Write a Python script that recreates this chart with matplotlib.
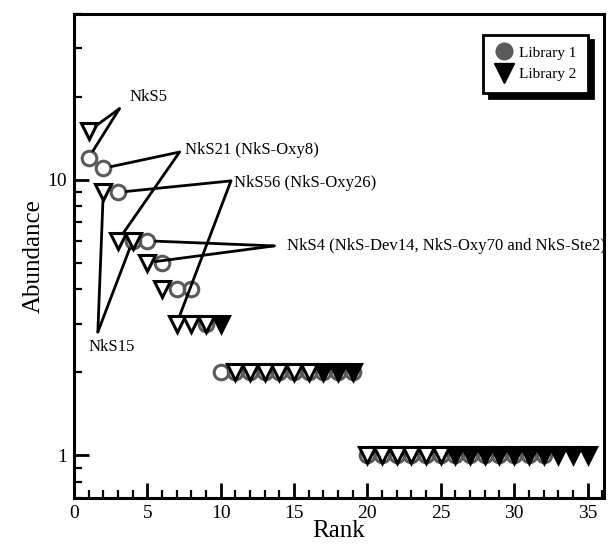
import matplotlib
matplotlib.use("Agg")
import matplotlib.pyplot as plt
from matplotlib.lines import Line2D
from matplotlib.ticker import MultipleLocator, LogLocator, NullFormatter, FixedLocator, FixedFormatter

plt.rcParams['font.family'] = ['Liberation Serif', 'DejaVu Serif']

# ---- data ----
l1_rank = list(range(1, 33))
l1_vals = [12, 11, 9, 6, 6, 5, 4, 4, 3] + [2] * 10 + [1] * 13
l2_rank = list(range(1, 36))
l2_vals = [15, 9, 6, 6, 5, 4, 3, 3, 3, 3] + [2] * 9 + [1] * 16
l2_filled = [10, 17, 18, 19] + list(range(26, 36))

# annotations: label, (label x, label y), (apex x, apex y), targets [(series, rank)]
notes = [
    ("NkS5", (3.8, 20.0), (3.1, 18.1), [("l2", 1), ("l1", 1)]),
    ("NkS21 (NkS-Oxy8)", (7.6, 12.8), (7.2, 12.6), [("l1", 2), ("l2", 3)]),
    ("NkS56 (NkS-Oxy26)", (10.9, 9.75), (10.7, 9.9), [("l1", 3), ("l2", 7)]),
    ("NkS4 (NkS-Dev14, NkS-Oxy70 and NkS-Ste2)", (14.5, 5.75), (13.65, 5.75), [("l1", 5), ("l2", 5)]),
    ("NkS15", (2.58, 2.47), (1.63, 2.8), [("l2", 2), ("l2", 4)]),
]

fig = plt.figure(figsize=(6.16, 5.52), dpi=100)
ax = fig.add_axes([0.120, 0.098, 0.860, 0.877])
ax.set_yscale('log')
ax.set_xlim(0, 36.1)
ax.set_ylim(0.7, 40)

gray = '#5a5a5a'
ax.plot(l1_rank, l1_vals, linestyle='none', marker='o', ms=10.5, mew=2.2,
        mec=gray, mfc='none', zorder=3)

open_r = [r for r in l2_rank if r not in l2_filled]
open_v = [v for r, v in zip(l2_rank, l2_vals) if r not in l2_filled]
fill_r = [r for r in l2_rank if r in l2_filled]
fill_v = [v for r, v in zip(l2_rank, l2_vals) if r in l2_filled]
ax.plot(open_r, open_v, linestyle='none', marker='v', ms=11.5, mew=2.2,
        mec='black', mfc='white', zorder=4)
ax.plot(fill_r, fill_v, linestyle='none', marker='v', ms=11.5, mew=2.2,
        mec='black', mfc='black', zorder=4)

series = {"l1": dict(zip(l1_rank, l1_vals)), "l2": dict(zip(l2_rank, l2_vals))}
for label, (tx, ty), (axx, ayy), targets in notes:
    ax.text(tx, ty, label, fontsize=12, ha='left' if label != "NkS15" else 'center',
            va='center', zorder=6, clip_on=False)
    for s, r in targets:
        ax.annotate("", xy=(r, series[s][r]), xytext=(axx, ayy),
                    arrowprops=dict(arrowstyle='-', color='black', lw=2,
                                    shrinkA=0, shrinkB=6), zorder=5)

# axes styling
for sp in ax.spines.values():
    sp.set_linewidth(2.2)
ax.xaxis.set_major_locator(MultipleLocator(5))
ax.xaxis.set_minor_locator(MultipleLocator(1))
ax.yaxis.set_major_locator(FixedLocator([1, 10]))
ax.yaxis.set_major_formatter(FixedFormatter(['1', '10']))
ax.yaxis.set_minor_locator(LogLocator(base=10, subs=range(2, 10)))
ax.yaxis.set_minor_formatter(NullFormatter())
ax.tick_params(which='major', direction='in', length=11, width=2, labelsize=14,
               top=False, right=False, pad=5)
ax.tick_params(which='minor', direction='in', length=6, width=1.6,
               top=False, right=False)
ax.set_xlabel("Rank", fontsize=18, labelpad=-1)
ax.set_ylabel("Abundance", fontsize=18, labelpad=2)

handles = [Line2D([], [], linestyle='none', marker='o', ms=12, mfc=gray, mec=gray),
           Line2D([], [], linestyle='none', marker='v', ms=14, mfc='black', mec='black')]
leg = ax.legend(handles, ["Library 1", "Library 2"], loc='upper right',
                bbox_to_anchor=(0.970, 0.957), borderaxespad=0, fontsize=11, fancybox=False,
                shadow={'color': 'black', 'alpha': 1.0, 'ox': 4, 'oy': -4}, framealpha=1,
                edgecolor='black', handletextpad=0.4, borderpad=0.75,
                labelspacing=0.5, handlelength=1.2)
leg.get_frame().set_linewidth(2)

fig.savefig("out.png", dpi=100)
